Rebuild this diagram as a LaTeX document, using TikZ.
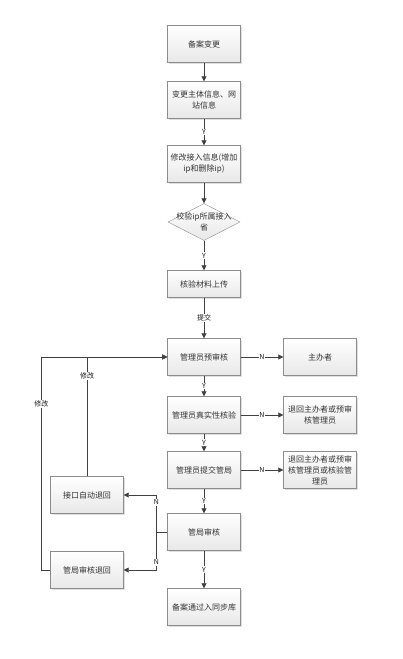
\documentclass[tikz,border=0pt]{standalone}
\usepackage{fontspec}
\newfontfamily\cjk{Noto Sans CJK SC}
\usetikzlibrary{shapes.geometric,arrows.meta,shadows}
\definecolor{ln}{HTML}{404040}
\definecolor{bd}{HTML}{8C8C8C}
\tikzset{
  box/.style={rectangle,draw=bd,top color=white,bottom color=gray!18,
    minimum width=73pt,minimum height=37pt,inner sep=1pt,align=center,
    text=black!80,font=\cjk\fontsize{8}{11}\selectfont,
    drop shadow={shadow xshift=1pt,shadow yshift=-1pt,opacity=0.25}},
  decision/.style={diamond,draw=bd,top color=white,bottom color=gray!18,
    minimum width=72pt,minimum height=37pt,inner sep=0pt},
  arr/.style={draw=ln,line width=0.8pt,-{Triangle[length=5pt,width=5pt]}},
  tag/.style={fill=white,inner sep=0.8pt,text=black!90,font=\cjk\fontsize{7}{8}\selectfont}
}
\begin{document}
\begin{tikzpicture}[x=1pt,y=-1pt]
\useasboundingbox (0,0) rectangle (402,659);
\node[box] (a) at (204,44) {备案变更};
\node[box] (b) at (204,100) {变更主体信息、网\\站信息};
\node[box] (c) at (204,164) {修改接入信息(增加\\ip和删除ip)};
\node[decision,label={[align=center,text=black!80,font=\cjk\fontsize{8}{11}\selectfont]center:校验ip所属接入\\省}] (d) at (204,222) {};
\node[box,minimum height=27pt] (e) at (204,284) {核验材料上传};
\node[box] (f) at (204,357) {管理员预审核};
\node[box] (g) at (320,357) {主办者};
\node[box] (h) at (204,415) {管理员真实性核验};
\node[box] (i) at (320,415) {退回主办者或预审\\核管理员};
\node[box] (j) at (204,470) {管理员提交管局};
\node[box] (k) at (320,470) {退回主办者或预审\\核管理员或核验管\\理员};
\node[box] (l) at (204,532) {管局审核};
\node[box] (m) at (204,607) {备案通过入同步库};
\node[box] (n) at (87,495) {接口自动退回};
\node[box] (o) at (87,570) {管局审核退回};
\draw[arr] (a) -- (b);
\draw[arr] (b) -- node[tag]{Y} (c);
\draw[arr] (c) -- (d);
\draw[arr] (d) -- node[tag]{Y} (e);
\draw[arr] (e) -- node[tag]{提交} (f);
\draw[arr] (f) -- node[tag]{N} (g);
\draw[arr] (f) -- node[tag]{Y} (h);
\draw[arr] (h) -- node[tag]{N} (i);
\draw[arr] (h) -- node[tag]{Y} (j);
\draw[arr] (j) -- node[tag]{N} (k);
\draw[arr] (j) -- node[tag]{Y} (l);
\draw[arr] (l) -- node[tag]{Y} (m);
\draw[arr] (l.west) -- ++(-11,0) |- node[tag,pos=0.4]{N} (n.east);
\draw[arr] (l.west) -- ++(-11,0) |- node[tag,pos=0.4]{N} (o.east);
\draw[arr] (n.north) |- node[tag,pos=0.42]{修改} (f.west);
\draw[arr] (o.west) -- ++(-9,0) |- node[tag,pos=0.39]{修改} (f.west);
\end{tikzpicture}
\end{document}
